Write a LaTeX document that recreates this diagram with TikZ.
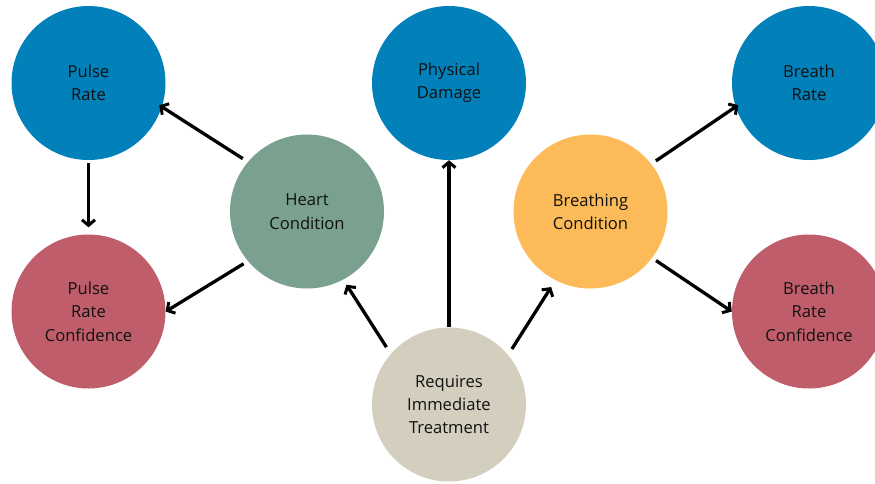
\documentclass[tikz,border=0pt]{standalone}
\usepackage{fontspec}
\setmainfont{Open Sans}
\usetikzlibrary{arrows.meta}
\definecolor{cblue}{HTML}{0180B9}
\definecolor{cgreen}{HTML}{7AA08F}
\definecolor{cred}{HTML}{C05D6B}
\definecolor{cyellow}{HTML}{FCBB58}
\definecolor{cbeige}{HTML}{D3CEBE}
\definecolor{ctext}{HTML}{111111}
\tikzset{
  ball/.style={circle, minimum size=154pt, inner sep=0pt, align=center,
    text=ctext, font=\fontsize{16.6}{23.3}\selectfont},
  arr/.style={line width=3.3pt, -{Straight Barb[length=5.5pt,width=13pt,line width=3pt]}}
}
\begin{document}
\begin{tikzpicture}[x=1pt,y=-1pt]
\useasboundingbox (0,0) rectangle (875,483);
\node[ball, fill=cblue] (pulse) at (88.5,83) {Pulse\\Rate};
\node[ball, fill=cred] (prc) at (88.5,311.5) {Pulse\\Rate\\Confidence};
\node[ball, fill=cgreen] (heart) at (307,211.5) {Heart\\Condition};
\node[ball, fill=cblue] (phys) at (449,83) {Physical\\Damage};
\node[ball, fill=cyellow] (breath) at (590.5,211.5) {Breathing\\Condition};
\node[ball, fill=cblue] (brate) at (809,83) {Breath\\Rate};
\node[ball, fill=cred] (brc) at (809,311.5) {Breath\\Rate\\Confidence};
\node[ball, fill=cbeige] (req) at (449,404.5) {Requires\\Immediate\\Treatment};

\draw[arr, shorten <=6pt, shorten >=-3pt] (heart.140) -- (pulse.-18);
\draw[arr, shorten <=5pt, shorten >=0pt] (heart.220) -- (prc.0);
\draw[arr, shorten <=3pt, shorten >=7pt] (pulse.-90) -- (prc.90);
\draw[arr, shorten <=8pt, shorten >=6pt] (req.139.5) -- (heart.-62);
\draw[arr] (req.90) -- (phys.-90);
\draw[arr, shorten <=7pt, shorten >=8pt] (req.40.3) -- (breath.243.6);
\draw[arr, shorten <=5.5pt, shorten >=-3pt] (breath.38.6) -- (brate.198.1);
\draw[arr, shorten <=4.7pt, shorten >=0pt] (breath.-37.9) -- (brc.180);
\end{tikzpicture}
\end{document}
